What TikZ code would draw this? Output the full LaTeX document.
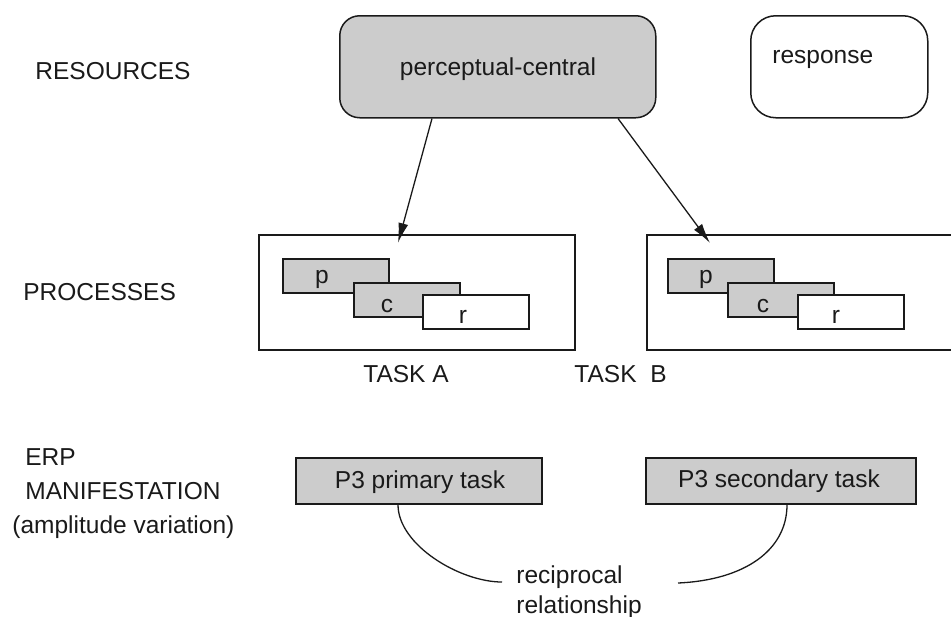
\documentclass[tikz,border=0pt]{standalone}
\usepackage{fontspec}
\setmainfont{Liberation Sans}
\usetikzlibrary{calc,arrows.meta}
\definecolor{boxgray}{HTML}{CCCCCC}
\definecolor{ink}{HTML}{1A1A1A}
\begin{document}
\begin{tikzpicture}[x=0.5pt,y=-0.5pt,
  every node/.style={font=\fontsize{12.25}{14}\selectfont, text=ink, inner sep=0pt},
  lbl/.style={anchor=base west},
  ctr/.style={anchor=base},
  resbox/.style={draw=ink, line width=0.75pt, anchor=north west, minimum height=51pt},
  taskbox/.style={draw=ink, line width=1pt, anchor=north west, minimum height=57.5pt},
  subbox/.style={draw=ink, line width=0.85pt, anchor=north west, minimum width=53pt, minimum height=17pt},
  erpbox/.style={draw=ink, line width=0.85pt, fill=boxgray, anchor=north west, minimum height=23pt},
  link/.style={draw=ink, line width=0.65pt},
  arr/.style={link, -{Latex[length=10pt,width=5pt]}}
]
\useasboundingbox (0,0) rectangle (951,616);
\clip (0,0) rectangle (951,616);

% left labels
\node[lbl] (lres) at (35,79) {RESOURCES};
\node[lbl] (lproc) at (23,300) {PROCESSES};
\node[lbl] (lerp) at (25,465) {ERP};
\node[lbl] (lman) at (25,499) {MANIFESTATION};
\node[lbl] (lamp) at (12,533) {(amplitude variation)};

% resources
\node[resbox, fill=boxgray, rounded corners=10pt, minimum width=158pt] (pc) at (339,15) {};
\node[ctr] (pctext) at (498,75) {perceptual-central};
\node[resbox, rounded corners=12.5pt, minimum width=88.5pt] (resp) at (750,15) {};
\node[lbl] (resptext) at (772,63) {response};

% task boxes
\node[taskbox, minimum width=158pt] (ta) at (258,234) {};
\node[taskbox, minimum width=165pt] (tb) at (646,234) {};

% processes task A
\node[subbox, fill=boxgray] (pa) at (282,258) {};
\node[ctr] (pat) at (322,283) {p};
\node[subbox, fill=boxgray] (ca) at (353,282) {};
\node[ctr] (cat) at (387,312) {c};
\node[subbox, fill=white] (ra) at (422,294) {};
\node[ctr] (rat) at (463,323) {r};

% processes task B
\node[subbox, fill=boxgray] (pb) at (667,258) {};
\node[ctr] (pbt) at (706,283) {p};
\node[subbox, fill=boxgray] (cb) at (727,282) {};
\node[ctr] (cbt) at (763,312) {c};
\node[subbox, fill=white] (rb) at (797,294) {};
\node[ctr] (rbt) at (836,323) {r};

\node[lbl] (taska) at (363,382) {TASK A};
\node[lbl] (taskb) at (574,382) {TASK\hspace{3.5pt} B};

% arrows
\draw[arr] ($(pc.south west)+(93,0)$) -- ($(ta.north west)+(140,9)$);
\draw[arr] ($(pc.south west)+(279,0)$) -- ($(tb.north west)+(64,9)$);

% ERP boxes
\node[erpbox, minimum width=123pt] (p3a) at (295,457) {};
\node[ctr] (p3at) at (420,488) {P3 primary task};
\node[erpbox, minimum width=135pt] (p3b) at (645,457) {};
\node[ctr] (p3bt) at (779,487) {P3 secondary task};

% reciprocal relationship
\node[lbl] (recip) at (516,583) {reciprocal};
\node[lbl] (relat) at (516,613) {relationship};
\coordinate (ea) at (502,582);
\coordinate (eb) at (678,583);
\draw[link] ($(p3a.south west)+(103,0)$) .. controls (398,545) and (460,582) .. (ea);
\draw[link] ($(p3b.south west)+(142,0)$) .. controls (787,550) and (745,580) .. (eb);
\end{tikzpicture}
\end{document}
